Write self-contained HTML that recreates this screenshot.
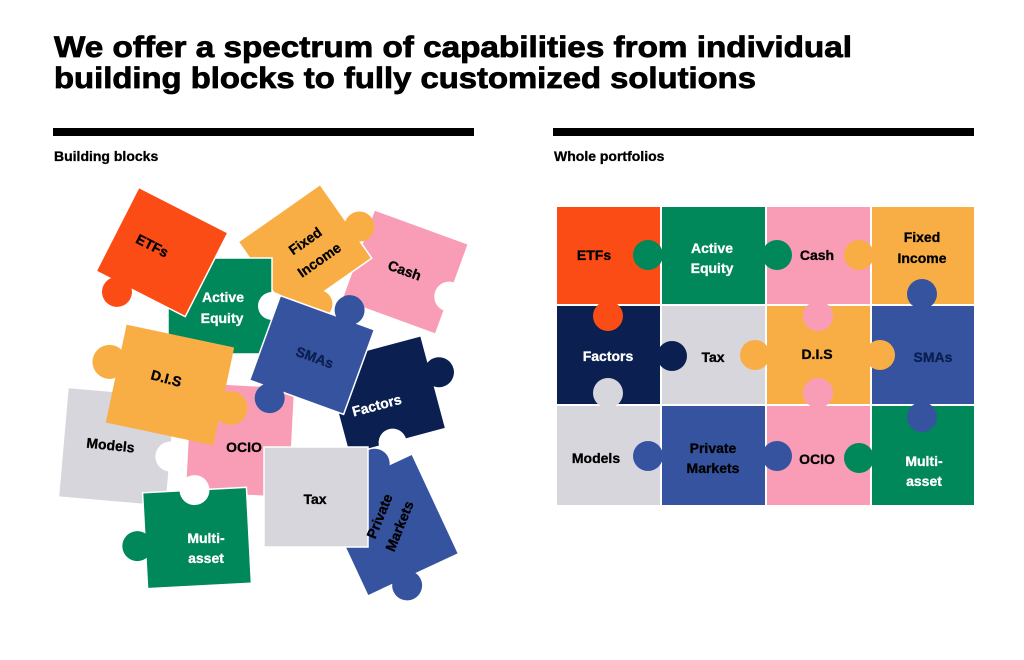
<!DOCTYPE html>
<html><head><meta charset="utf-8"><style>
html,body{margin:0;padding:0;background:#fff;}
svg{display:block;font-family:"Liberation Sans",sans-serif;font-weight:bold;}
</style></head><body>
<svg width="1024" height="660" viewBox="0 0 1024 660" xmlns="http://www.w3.org/2000/svg">
<rect width="1024" height="660" fill="#fff"/>
<text x="54" y="57" font-size="30" textLength="798" lengthAdjust="spacingAndGlyphs" fill="#000" stroke="#000" stroke-width="0.8">We offer a spectrum of capabilities from individual</text>
<text x="54" y="88" font-size="30" textLength="702" lengthAdjust="spacingAndGlyphs" fill="#000" stroke="#000" stroke-width="0.8">building blocks to fully customized solutions</text>
<rect x="53" y="128" width="421" height="8" fill="#000"/>
<rect x="553" y="128" width="421" height="8" fill="#000"/>
<text x="54" y="161" font-size="14" fill="#000" stroke="#000" stroke-width="0.3">Building blocks</text>
<text x="554" y="161" font-size="14" fill="#000" stroke="#000" stroke-width="0.3">Whole portfolios</text>

<!-- LEFT PILE -->
<g>
<g transform="translate(385,395) rotate(-15)">
<rect x="-50" y="-48" width="100" height="96" fill="#0B1F51" stroke="#fff" stroke-width="1.5"/>
<circle cx="58" cy="-8" r="15" fill="#0B1F51"/>
<circle cx="-5" cy="48" r="14" fill="#fff"/>
</g>
<g transform="translate(390,525) rotate(-25)">
<rect x="-50" y="-55" width="100" height="110" fill="#3653A0" stroke="#fff" stroke-width="1.5"/>
<circle cx="12" cy="-62" r="15" fill="#3653A0"/>
<circle cx="-10" cy="62" r="15" fill="#3653A0"/>
</g>
<g transform="translate(405,272) rotate(20)">
<rect x="-50" y="-48" width="100" height="96" fill="#F99DB7" stroke="#fff" stroke-width="1.5"/>
<circle cx="50" cy="8" r="15" fill="#fff"/>
</g>
<g transform="translate(305,250) rotate(-35)">
<rect x="-50" y="-45" width="100" height="90" fill="#F9AE45" stroke="#fff" stroke-width="1.5"/>
<circle cx="58" cy="12" r="15" fill="#F9AE45"/>
<circle cx="-20" cy="52" r="14" fill="#F9AE45"/>
</g>
<g transform="translate(220,306)">
<rect x="-52" y="-48" width="104" height="96" fill="#00875A" stroke="#fff" stroke-width="1.5"/>
<circle cx="-25" cy="-52" r="15" fill="#00875A"/>
<circle cx="52" cy="0" r="14" fill="#fff"/>
</g>
<g transform="translate(162,252) rotate(27)">
<rect x="-50" y="-47" width="100" height="94" fill="#FC4C15" stroke="#fff" stroke-width="1.5"/>
<circle cx="-22" cy="56" r="15" fill="#FC4C15"/>
</g>
<g transform="translate(240,440) rotate(3)">
<rect x="-52" y="-55" width="104" height="110" fill="#F99DB7" stroke="#fff" stroke-width="1.5"/>
</g>
<g transform="translate(118,447) rotate(5)">
<rect x="-55" y="-55" width="108" height="110" fill="#D6D6DC" stroke="#fff" stroke-width="1.5"/>
<circle cx="20" cy="-62" r="14" fill="#D6D6DC"/>
<circle cx="53" cy="5" r="15" fill="#fff"/>
</g>
<g transform="translate(197,538) rotate(-3)">
<rect x="-52" y="-48" width="104" height="96" fill="#00875A" stroke="#fff" stroke-width="1.5"/>
<circle cx="-60" cy="5" r="15" fill="#00875A"/>
<circle cx="0" cy="-48" r="15" fill="#fff"/>
</g>
<g transform="translate(316,497)">
<rect x="-52" y="-50" width="104" height="100" fill="#D6D6DC" stroke="#fff" stroke-width="1.5"/>
</g>
<g transform="translate(170,385) rotate(12)">
<rect x="-55" y="-50" width="110" height="100" fill="#F9AE45"/>
<circle cx="-64" cy="-10" r="17" fill="#F9AE45"/>
<circle cx="64" cy="10" r="17" fill="#F9AE45"/>
</g>
<g transform="translate(312,355) rotate(20)">
<rect x="-50" y="-45" width="100" height="90" fill="#3653A0" stroke="#fff" stroke-width="1.5"/>
<circle cx="20" cy="-55" r="15" fill="#3653A0"/>
<circle cx="-25" cy="55" r="15" fill="#3653A0"/>
</g>
</g>
<g font-size="14" text-anchor="middle" stroke-width="0.3">
<text transform="translate(150,250) rotate(27)" fill="#000" stroke="#000">ETFs</text>
<text x="223" y="302" fill="#fff" stroke="#fff">Active</text>
<text x="222" y="323" fill="#fff" stroke="#fff">Equity</text>
<text transform="translate(308,245) rotate(-35)" fill="#000" stroke="#000">Fixed</text>
<text transform="translate(322,264) rotate(-35)" fill="#000" stroke="#000">Income</text>
<text transform="translate(403,275) rotate(20)" fill="#000" stroke="#000">Cash</text>
<text transform="translate(313,362) rotate(20)" fill="#0B1F51" stroke="#0B1F51">SMAs</text>
<text transform="translate(165,383) rotate(15)" fill="#000" stroke="#000">D.I.S</text>
<text transform="translate(378,410) rotate(-15)" fill="#fff" stroke="#fff">Factors</text>
<text transform="translate(110,450) rotate(6)" fill="#000" stroke="#000">Models</text>
<text x="244" y="452" fill="#000" stroke="#000">OCIO</text>
<text x="315" y="504" fill="#000" stroke="#000">Tax</text>
<text transform="translate(384,518) rotate(-68)" fill="#000" stroke="#000">Private</text>
<text transform="translate(404,528) rotate(-68)" fill="#000" stroke="#000">Markets</text>
<text x="206" y="543" fill="#fff" stroke="#fff">Multi-</text>
<text x="206" y="563" fill="#fff" stroke="#fff">asset</text>
</g>

<!-- RIGHT GRID -->
<g>
<rect x="557" y="207" width="103" height="97" fill="#FC4C15"/>
<rect x="662" y="207" width="103" height="97" fill="#00875A"/>
<rect x="767" y="207" width="103" height="97" fill="#F99DB7"/>
<rect x="872" y="207" width="102" height="97" fill="#F9AE45"/>
<rect x="557" y="306" width="103" height="98" fill="#0B1F51"/>
<rect x="662" y="306" width="103" height="98" fill="#D6D6DC"/>
<rect x="767" y="306" width="103" height="98" fill="#F9AE45"/>
<rect x="872" y="306" width="102" height="98" fill="#3653A0"/>
<rect x="557" y="406" width="103" height="99" fill="#D6D6DC"/>
<rect x="662" y="406" width="103" height="99" fill="#3653A0"/>
<rect x="767" y="406" width="103" height="99" fill="#F99DB7"/>
<rect x="872" y="406" width="102" height="99" fill="#00875A"/>
</g>
<g>
<circle cx="648" cy="255" r="15" fill="#00875A"/>
<circle cx="777" cy="255" r="15" fill="#00875A"/>
<circle cx="859" cy="255" r="15" fill="#F9AE45"/>
<circle cx="608" cy="316" r="15" fill="#FC4C15"/>
<circle cx="672" cy="356" r="15" fill="#0B1F51"/>
<circle cx="608" cy="393" r="15" fill="#D6D6DC"/>
<circle cx="818" cy="316" r="15" fill="#F99DB7"/>
<circle cx="755" cy="355" r="15" fill="#F9AE45"/>
<circle cx="880" cy="355" r="15" fill="#F9AE45"/>
<circle cx="922" cy="294" r="15" fill="#3653A0"/>
<circle cx="818" cy="393" r="15" fill="#F99DB7"/>
<circle cx="922" cy="417" r="15" fill="#3653A0"/>
<circle cx="648" cy="456" r="15" fill="#3653A0"/>
<circle cx="777" cy="456" r="15" fill="#3653A0"/>
<circle cx="859" cy="458" r="15" fill="#00875A"/>
</g>
<g font-size="14" text-anchor="middle" stroke-width="0.3">
<text x="594" y="260" fill="#000" stroke="#000">ETFs</text>
<text x="712" y="253" fill="#fff" stroke="#fff">Active</text>
<text x="712" y="273" fill="#fff" stroke="#fff">Equity</text>
<text x="817" y="260" fill="#000" stroke="#000">Cash</text>
<text x="922" y="242" fill="#000" stroke="#000">Fixed</text>
<text x="922" y="263" fill="#000" stroke="#000">Income</text>
<text x="608" y="361" fill="#fff" stroke="#fff">Factors</text>
<text x="713" y="362" fill="#000" stroke="#000">Tax</text>
<text x="817" y="359" fill="#000" stroke="#000">D.I.S</text>
<text x="933" y="362" fill="#0B1F51" stroke="#0B1F51">SMAs</text>
<text x="596" y="463" fill="#000" stroke="#000">Models</text>
<text x="713" y="453" fill="#000" stroke="#000">Private</text>
<text x="713" y="473" fill="#000" stroke="#000">Markets</text>
<text x="817" y="464" fill="#000" stroke="#000">OCIO</text>
<text x="924" y="466" fill="#fff" stroke="#fff">Multi-</text>
<text x="924" y="486" fill="#fff" stroke="#fff">asset</text>
</g>
</svg>
</body></html>
